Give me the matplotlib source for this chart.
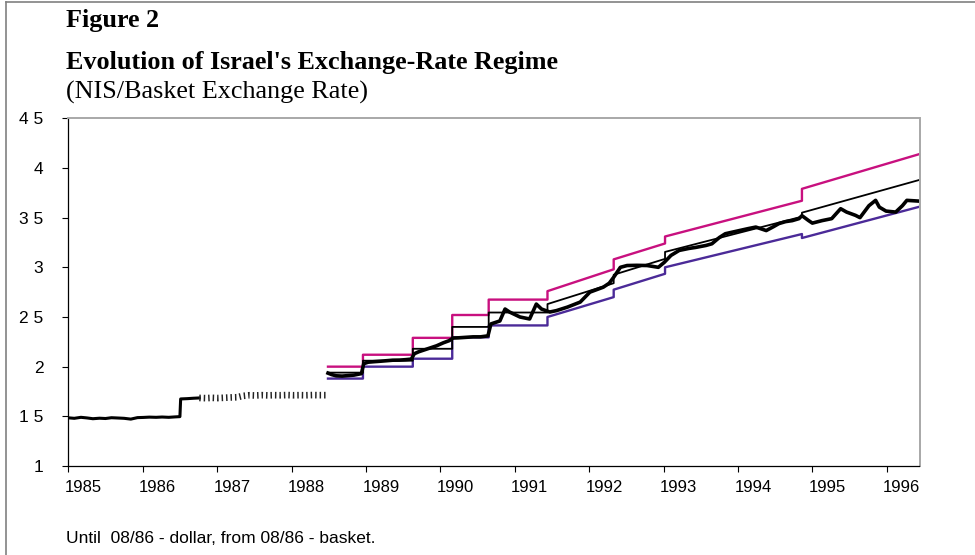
import matplotlib.pyplot as plt
from matplotlib.lines import Line2D
from matplotlib.transforms import ScaledTranslation

# NIS/basket rate (dollar rate until 08/86)
rate_t = [1985.00, 1985.08, 1985.17, 1985.25, 1985.33, 1985.42, 1985.50, 1985.58,
          1985.67, 1985.75, 1985.84, 1985.93, 1986.01, 1986.09, 1986.18, 1986.26,
          1986.35, 1986.43, 1986.50, 1986.51, 1986.60, 1986.68, 1986.76]
rate_v = [1.485, 1.480, 1.490, 1.484, 1.476, 1.481, 1.478, 1.486,
          1.483, 1.480, 1.472, 1.487, 1.489, 1.492, 1.490, 1.493,
          1.490, 1.494, 1.497, 1.675, 1.678, 1.682, 1.685]

# the part that prints as a hatched line in the original
hatch_t = [1986.76, 1986.85, 1986.93, 1987.01, 1987.10, 1987.18, 1987.27, 1987.34,
           1987.43, 1987.51, 1987.60, 1987.68, 1987.77, 1987.85, 1987.94, 1988.02,
           1988.11, 1988.19, 1988.28, 1988.36, 1988.47]
hatch_v = [1.685, 1.683, 1.686, 1.684, 1.687, 1.690, 1.692, 1.705,
           1.712, 1.710, 1.713, 1.711, 1.713, 1.712, 1.714, 1.712,
           1.713, 1.712, 1.714, 1.713, 1.713]

band_rate_t = [1988.49, 1988.54, 1988.60, 1988.68, 1988.76, 1988.84, 1988.94, 1988.97,
               1989.03, 1989.11, 1989.20, 1989.28, 1989.36, 1989.45, 1989.53, 1989.61,
               1989.65, 1989.71, 1989.79, 1989.87, 1989.95, 1990.04, 1990.12, 1990.17,
               1990.24, 1990.34, 1990.44, 1990.54, 1990.64, 1990.68, 1990.80, 1990.87,
               1990.93, 1991.07, 1991.20, 1991.29, 1991.36, 1991.47, 1991.56, 1991.71,
               1991.88, 1992.01, 1992.19, 1992.27, 1992.33, 1992.42, 1992.51, 1992.64,
               1992.78, 1992.93, 1993.01, 1993.10, 1993.21, 1993.34, 1993.43, 1993.57,
               1993.65, 1993.75, 1993.83, 1994.02, 1994.14, 1994.24, 1994.38, 1994.48,
               1994.55, 1994.64, 1994.73, 1994.82, 1994.86, 1994.95, 1995.00, 1995.13,
               1995.26, 1995.38, 1995.46, 1995.58, 1995.64, 1995.76, 1995.85, 1995.90,
               1995.99, 1996.12, 1996.21, 1996.27, 1996.42]
band_rate_v = [1.935, 1.920, 1.908, 1.905, 1.910, 1.915, 1.930, 2.030,
               2.045, 2.050, 2.055, 2.060, 2.065, 2.066, 2.070, 2.076,
               2.130, 2.150, 2.170, 2.190, 2.210, 2.240, 2.262, 2.288,
               2.290, 2.295, 2.300, 2.300, 2.310, 2.430, 2.460, 2.580,
               2.550, 2.500, 2.480, 2.630, 2.580, 2.550, 2.564, 2.600,
               2.650, 2.750, 2.800, 2.840, 2.900, 3.000, 3.018, 3.020,
               3.018, 3.000, 3.050, 3.120, 3.170, 3.190, 3.200, 3.220,
               3.237, 3.300, 3.338, 3.370, 3.390, 3.405, 3.370, 3.410,
               3.440, 3.460, 3.470, 3.490, 3.520, 3.470, 3.445, 3.470,
               3.490, 3.590, 3.556, 3.523, 3.500, 3.620, 3.674, 3.606,
               3.566, 3.556, 3.620, 3.674, 3.667]

# exchange-rate band: segment boundaries and start/end levels of each segment
seg_t = [1988.49, 1988.96, 1989.63, 1990.16, 1990.65, 1991.44, 1992.33, 1993.02, 1994.86, 1996.44]
upper_start = [2.000, 2.120, 2.290, 2.520, 2.675, 2.760, 3.080, 3.310, 3.790]
upper_end = [2.000, 2.120, 2.290, 2.520, 2.675, 2.980, 3.240, 3.670, 4.140]
mid_start = [1.940, 2.060, 2.180, 2.400, 2.545, 2.630, 2.925, 3.155, 3.550]
mid_end = [1.940, 2.060, 2.180, 2.400, 2.545, 2.840, 3.085, 3.510, 3.880]
lower_start = [1.880, 2.000, 2.080, 2.295, 2.415, 2.500, 2.775, 3.000, 3.295]
lower_end = [1.880, 2.000, 2.080, 2.295, 2.415, 2.700, 2.935, 3.335, 3.610]

years = list(range(1985, 1997))
ytick_vals = [1, 1.5, 2, 2.5, 3, 3.5, 4, 4.5]
ytick_labels = ["1", "1 5", "2", "2 5", "3", "3 5", "4", "4 5"]


def steps(start, end):
    xs, ys = [], []
    for i in range(len(start)):
        xs += [seg_t[i], seg_t[i + 1]]
        ys += [start[i], end[i]]
    return xs, ys


fig = plt.figure(figsize=(9.75, 5.55), dpi=100)
ax = fig.add_axes([68.3 / 975, 1 - 466 / 555, (919.5 - 68.3) / 975, (466 - 118.3) / 555])

ux, uy = steps(upper_start, upper_end)
mx, my = steps(mid_start, mid_end)
lx, ly = steps(lower_start, lower_end)
ax.plot(ux, uy, color='#C8107F', lw=1.7)
ax.plot(lx, ly, color='#4B2A98', lw=1.7)
ax.plot(mx, my, color='black', lw=1.3)

ax.plot(rate_t, rate_v, color='black', lw=2.2)
ax.plot(hatch_t, hatch_v, color='#222222', lw=4.8, dashes=(0.22, 0.45), dash_capstyle='butt')
ax.plot(band_rate_t, band_rate_v, color='black', lw=2.6)

ax.set_xlim(1985.0, 1996.44)
ax.set_ylim(1, 4.5)
ax.set_xticks(years)
ax.set_xticklabels([str(y) for y in years], fontsize=12, family='Liberation Sans')
ax.set_yticks(ytick_vals)
ax.set_yticklabels(ytick_labels, fontsize=12.5, family='Liberation Sans')
ax.tick_params(axis='y', direction='out', length=4, width=0.8, pad=14)
ax.tick_params(axis='x', direction='out', length=4, width=0.8, pad=6)
# labels sit a little to the right of their tick marks
for lab in ax.get_xticklabels():
    lab.set_transform(lab.get_transform() + ScaledTranslation(15 / 100, 0, fig.dpi_scale_trans))

for s in ['left', 'bottom']:
    ax.spines[s].set_color('black')
    ax.spines[s].set_linewidth(0.9)
for s in ['top', 'right']:
    ax.spines[s].set_color('#A8A8A8')
    ax.spines[s].set_linewidth(1.4)

# titles
fig.text(66 / 975, 1 - 27 / 555, "Figure 2", fontsize=18.8, fontweight='bold',
         family='Liberation Serif', va='baseline')
fig.text(66 / 975, 1 - 69 / 555, "Evolution of Israel's Exchange-Rate Regime", fontsize=18.8,
         fontweight='bold', family='Liberation Serif', va='baseline')
fig.text(66 / 975, 1 - 99 / 555, "(NIS/Basket Exchange Rate)", fontsize=18.8,
         family='Liberation Serif', va='baseline')
fig.text(66 / 975, 1 - 543 / 555, "Until  08/86 - dollar, from 08/86 - basket.", fontsize=12.5,
         family='Liberation Sans', va='baseline')

# frame around the figure (only left and top edges show)
fig.add_artist(Line2D([6 / 975, 6 / 975], [0, 1 - 1.5 / 555], color='#808080', lw=1.2))
fig.add_artist(Line2D([6 / 975, 1], [1 - 1.5 / 555, 1 - 1.5 / 555], color='#808080', lw=1.2))

fig.savefig('out.png', dpi=100)
